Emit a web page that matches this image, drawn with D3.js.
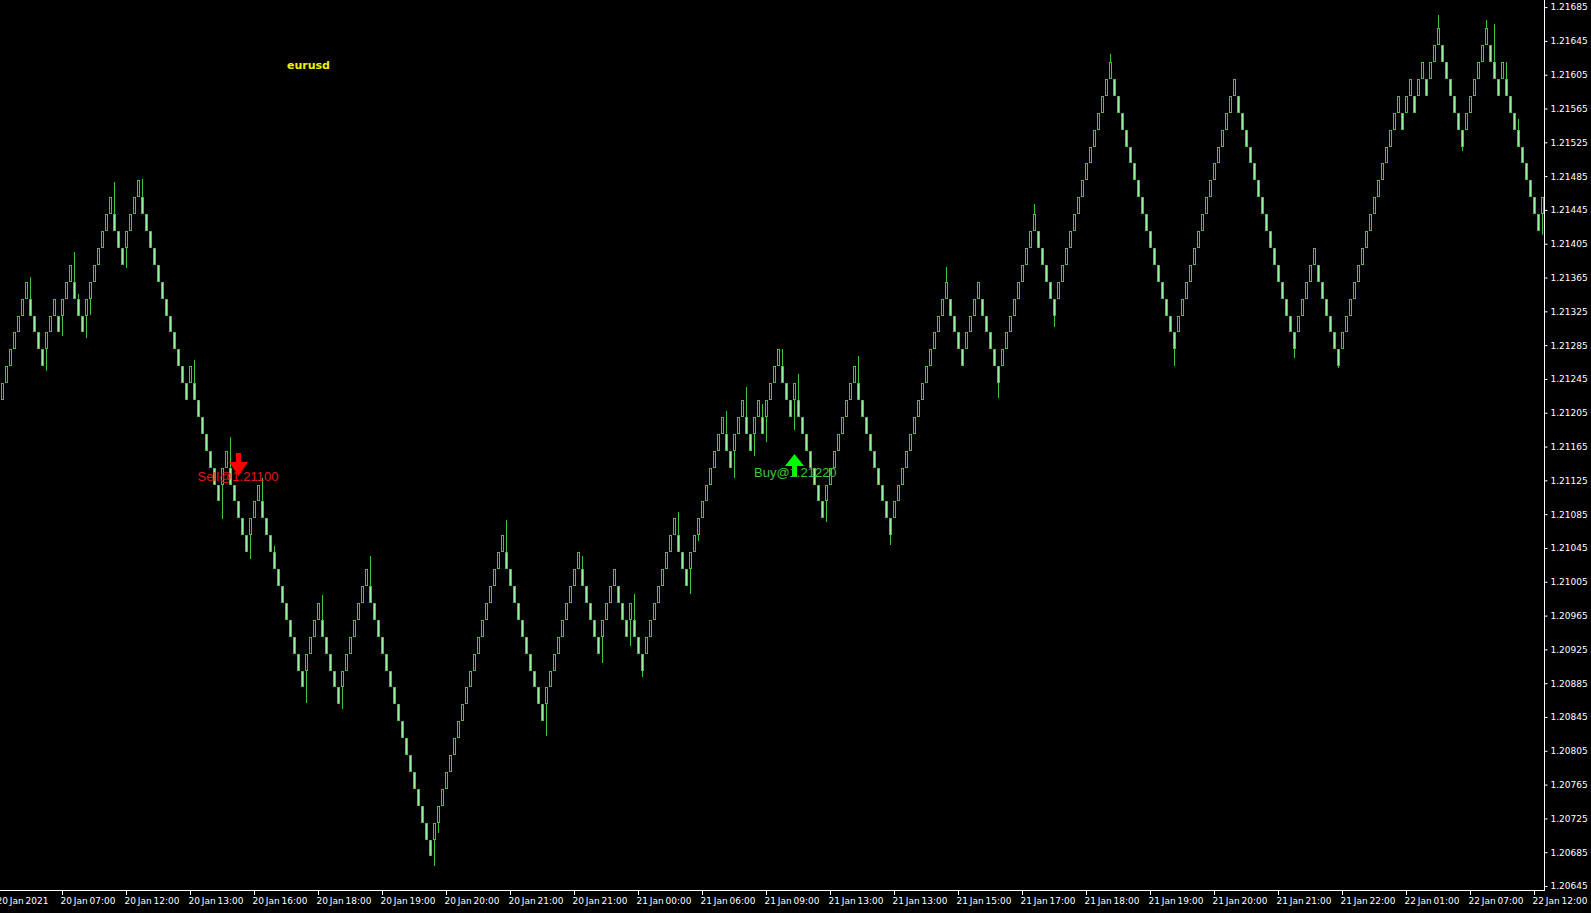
<!DOCTYPE html>
<html>
<head>
<meta charset="utf-8">
<title>eurusd renko</title>
<script src="https://cdn.jsdelivr.net/npm/d3@7"></script>
<style>
  html, body { margin: 0; padding: 0; background: #000; overflow: hidden; }
  svg { display: block; }
</style>
</head>
<body>
<svg id="chart" width="1591" height="913"></svg>
<script>
// ---------------------- DATA ----------------------

const symbol = "eurusd";
const brickSize = 0.0002;
const firstOpen = 1.21220;

// consecutive renko bricks, left to right: + = up bricks, - = down bricks
const brickRuns = [
    7, -4, 3, -1, 3, -3, 7, -3, 4, -12, 1, -7, 2, -5, 3, -11, 4, -5, 7, -16,
    18, -10, 9, -5, 4, -3, 1, -3, 8, -3, 9, -2, 3, -2, 2, -1, 4, -3, 1, -7, 8, -9,
    14, -4, 4, -5, 9, -5, 14, -16, 15, -15, 5, -6, 15, -1, 2, -1, 2, -1, 3, -6,
    6, -3, 1, -9, 1
];

// [brick index, wick extreme price]
const wicks = [
    [7, 1.21366], [11, 1.21254], [15, 1.21296], [18, 1.21395], [19, 1.21346],
    [21, 1.21294], [22, 1.21321], [28, 1.21478], [31, 1.21376], [35, 1.21482],
    [48, 1.21268], [55, 1.21079], [57, 1.21176], [62, 1.21032], [65, 1.21128],
    [68, 1.21047], [76, 1.20862], [80, 1.20989], [85, 1.20855], [92, 1.21035],
    [108, 1.20669], [109, 1.20708], [126, 1.21078], [136, 1.20823], [145, 1.21036],
    [150, 1.20909], [157, 1.20929], [158, 1.20991], [160, 1.20892], [169, 1.21087],
    [172, 1.20991], [174, 1.21053], [181, 1.21207], [183, 1.21128], [186, 1.21236],
    [188, 1.21154], [190, 1.21215], [191, 1.21170], [195, 1.21281], [198, 1.21184],
    [199, 1.21251], [206, 1.21076], [214, 1.21272], [222, 1.21048], [236, 1.21378],
    [249, 1.21222], [258, 1.21452], [263, 1.21306], [277, 1.21630], [293, 1.21260],
    [323, 1.21270], [334, 1.21258], [359, 1.21676], [365, 1.21515], [371, 1.21670],
    [373, 1.21665], [376, 1.21620], [379, 1.21552], [385, 1.21415]
];

const priceTicks = [
    1.20645, 1.20685, 1.20725, 1.20765, 1.20805, 1.20845, 1.20885, 1.20925, 1.20965,
    1.21005, 1.21045, 1.21085, 1.21125, 1.21165, 1.21205, 1.21245, 1.21285, 1.21325,
    1.21365, 1.21405, 1.21445, 1.21485, 1.21525, 1.21565, 1.21605, 1.21645, 1.21685
];

const timeLabels = [
    "20 Jan 2021", "20 Jan 07:00", "20 Jan 12:00", "20 Jan 13:00", "20 Jan 16:00",
    "20 Jan 18:00", "20 Jan 19:00", "20 Jan 20:00", "20 Jan 21:00", "20 Jan 21:00",
    "21 Jan 00:00", "21 Jan 06:00", "21 Jan 09:00", "21 Jan 13:00", "21 Jan 13:00",
    "21 Jan 15:00", "21 Jan 17:00", "21 Jan 18:00", "21 Jan 19:00", "21 Jan 20:00",
    "21 Jan 21:00", "21 Jan 22:00", "22 Jan 01:00", "22 Jan 07:00", "22 Jan 12:00"
];

const signals = [
    {type: "sell", bar: 59, price: 1.21100},
    {type: "buy", bar: 198, price: 1.21220}
];

// ---------------------- UTILITY FUNCTIONS ----------------------

/**
 * Build renko bricks (open/close) from the run list
 */
function buildBricks(runs) {
    const bricks = [];
    let prev = null;
    runs.forEach(run => {
        const dir = Math.sign(run);
        for (let k = 0; k < Math.abs(run); k++) {
            let open;
            if (!prev) open = firstOpen;
            else if (prev.dir === dir) open = prev.close;
            else open = prev.open;
            const b = {i: bricks.length, dir, open, close: open + dir * brickSize};
            bricks.push(b);
            prev = b;
        }
    });
    return bricks;
}

// ---------------------- MAIN RENDER ----------------------

const W = 1591, H = 913;
const plotRight = 1544, plotBottom = 890;
const green = "#3fc43f";
const downFill = "#a4eea4";
const axisFont = "'DejaVu Sans', Verdana, sans-serif";

const bricks = buildBricks(brickRuns);
const svg = d3.select("#chart");

svg.append("rect").attr("width", W).attr("height", H).attr("fill", "#000");

const x = d3.scaleLinear().domain([0, bricks.length - 1]).range([2, plotRight - 2]);
const y = d3.scaleLinear().domain([1.20645, 1.21685]).range([886, 7.1]);
const px = v => Math.round(v);

// wicks first, bodies on top
const wickLayer = svg.append("g").attr("stroke", green).attr("stroke-width", 1);
wicks.forEach(([i, p]) => {
    const b = bricks[i];
    if (!b) return;
    const hi = Math.max(b.open, b.close), lo = Math.min(b.open, b.close);
    const cx = px(x(i)) + 0.5;
    const edge = p > hi ? px(y(hi)) : px(y(lo));
    wickLayer.append("line")
        .attr("x1", cx).attr("x2", cx)
        .attr("y1", px(y(p))).attr("y2", edge);
});

svg.append("g")
    .selectAll("rect")
    .data(bricks)
    .enter().append("rect")
    .attr("x", d => px(x(d.i)) - 0.5)
    .attr("y", d => px(y(Math.max(d.open, d.close))) + 0.5)
    .attr("width", 2)
    .attr("height", d => px(y(Math.min(d.open, d.close))) - px(y(Math.max(d.open, d.close))) - 1)
    .attr("fill", d => d.dir > 0 ? "#000" : downFill)
    .attr("stroke", green)
    .attr("stroke-width", 1);

// ---------------------- AXES ----------------------

svg.append("line")
    .attr("x1", plotRight + 0.5).attr("x2", plotRight + 0.5)
    .attr("y1", 0).attr("y2", plotBottom + 1)
    .attr("stroke", "#fff");
svg.append("line")
    .attr("x1", 0).attr("x2", plotRight + 1)
    .attr("y1", plotBottom + 0.5).attr("y2", plotBottom + 0.5)
    .attr("stroke", "#fff");

const yAxis = d3.axisRight(y)
    .tickValues(priceTicks)
    .tickSize(3)
    .tickPadding(3)
    .tickFormat(d3.format(".5f"));
const yG = svg.append("g")
    .attr("transform", `translate(${plotRight + 0.5},0)`)
    .call(yAxis);
yG.select(".domain").remove();
yG.selectAll("line").attr("stroke", "#fff");
yG.selectAll("text")
    .attr("fill", "#fff")
    .style("font-family", axisFont)
    .style("font-size", "9px");

// time labels sit under every 16th brick; the first one starts before the window
const timeBars = timeLabels.map((t, k) => k === 0 ? -1 : 15 + 16 * (k - 1));
const xG = svg.append("g");
timeBars.forEach((bar, k) => {
    const tx = px(x(bar)) + 0.5;
    xG.append("line")
        .attr("x1", tx).attr("x2", tx)
        .attr("y1", plotBottom).attr("y2", plotBottom + 5)
        .attr("stroke", "#fff");
    xG.append("text")
        .attr("x", tx - 2)
        .attr("y", 903.5)
        .attr("fill", "#fff")
        .style("font-family", axisFont)
        .style("font-size", "9px")
        .style("word-spacing", "-1px")
        .text(timeLabels[k]);
});

// ---------------------- LABELS & SIGNALS ----------------------

svg.append("text")
    .attr("x", 287)
    .attr("y", 69)
    .attr("fill", "#f2f200")
    .style("font-family", axisFont)
    .style("font-weight", "bold")
    .style("font-size", "11px")
    .text(symbol);

signals.forEach(s => {
    const cx = px(x(s.bar)) + 0.5;
    const g = svg.append("g");
    if (s.type === "sell") {
        const top = px(y(s.price)) - 48;
        g.append("path")
            .attr("d", `M${cx - 2.5},${top} h5 v9 h7 L${cx},${top + 23} L${cx - 9.5},${top + 9} h7 Z`)
            .attr("fill", "#ff0000");
        g.append("text")
            .attr("x", cx - 41)
            .attr("y", top + 27.5)
            .attr("fill", "#e01818")
            .style("font-family", "'Liberation Sans', Arial, sans-serif")
            .style("font-size", "13px")
            .text(`Sell@${s.price.toFixed(5)}`);
    } else {
        const top = px(y(s.price)) + 54;
        g.append("path")
            .attr("d", `M${cx},${top} L${cx + 9.5},${top + 12} h-7 v11 h-5 v-11 h-7 Z`)
            .attr("fill", "#00ff00");
        g.append("text")
            .attr("x", cx - 40.5)
            .attr("y", top + 23)
            .attr("fill", "#3cc83c")
            .style("font-family", "'Liberation Sans', Arial, sans-serif")
            .style("font-size", "13px")
            .text(`Buy@${s.price.toFixed(5)}`);
    }
});
</script>
</body>
</html>
